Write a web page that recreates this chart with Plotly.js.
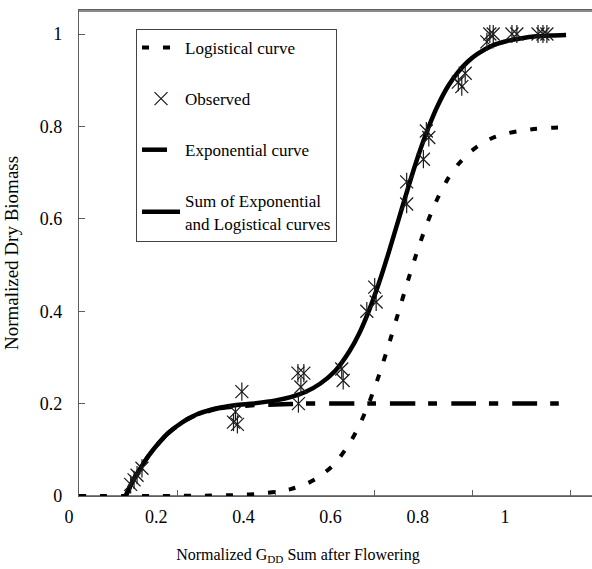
<!DOCTYPE html>
<html>
<head>
<meta charset="utf-8">
<script src="https://cdn.plot.ly/plotly-3.0.1.min.js"></script>
<style>
  html, body { margin: 0; padding: 0; background: #ffffff; }
  #chart { width: 592px; height: 569px; }
</style>
</head>
<body>
<div id="chart"></div>
<script>
// Normalized GDD sum after flowering (x) and normalized dry biomass (y)

// Logistical curve
const gddLogistic = [0, 0.05, 0.1, 0.15, 0.2, 0.25, 0.3, 0.33, 0.36, 0.4, 0.43, 0.46, 0.49, 0.52, 0.55, 0.57, 0.59, 0.61, 0.63, 0.65, 0.67, 0.69, 0.71, 0.73, 0.75, 0.77, 0.79, 0.81, 0.84, 0.87, 0.9, 0.93, 0.96, 0.99];
const biomassLogistic = [0, 0, 0, 0, 0.0002, 0.0006, 0.0015, 0.0025, 0.0043, 0.0088, 0.015, 0.025, 0.043, 0.070, 0.114, 0.153, 0.203, 0.262, 0.329, 0.400, 0.471, 0.538, 0.597, 0.647, 0.687, 0.717, 0.740, 0.757, 0.775, 0.785, 0.791, 0.795, 0.797, 0.798];

// Exponential curve
const gddExponential = [0.095, 0.1, 0.11, 0.12, 0.13, 0.14, 0.15, 0.16, 0.17, 0.18, 0.2, 0.22, 0.24, 0.26, 0.28, 0.3, 0.33, 0.36, 0.4, 0.43, 0.46, 0.5, 0.6, 0.7, 0.8, 0.9, 0.99];
const biomassExponential = [0, 0.012, 0.034, 0.052, 0.069, 0.085, 0.099, 0.112, 0.124, 0.135, 0.152, 0.166, 0.176, 0.183, 0.189, 0.192, 0.195, 0.197, 0.198, 0.199, 0.2, 0.2, 0.2, 0.2, 0.2, 0.2, 0.2];

// Sum of exponential and logistical curves
const gddSum = [0.095, 0.1, 0.11, 0.12, 0.13, 0.14, 0.15, 0.16, 0.17, 0.18, 0.2, 0.22, 0.24, 0.26, 0.28, 0.3, 0.33, 0.36, 0.4, 0.43, 0.46, 0.49, 0.52, 0.55, 0.57, 0.59, 0.61, 0.63, 0.65, 0.67, 0.69, 0.71, 0.73, 0.75, 0.77, 0.79, 0.81, 0.84, 0.87, 0.9, 0.93, 0.96, 0.99];
const biomassSum = [0, 0.012, 0.034, 0.052, 0.069, 0.085, 0.099, 0.112, 0.124, 0.135, 0.152, 0.166, 0.177, 0.184, 0.190, 0.194, 0.198, 0.201, 0.207, 0.214, 0.225, 0.243, 0.270, 0.314, 0.353, 0.403, 0.462, 0.529, 0.600, 0.671, 0.738, 0.797, 0.847, 0.887, 0.917, 0.940, 0.957, 0.975, 0.985, 0.991, 0.995, 0.997, 0.998];

// Observed samples
const gddObserved = [0.105, 0.112, 0.118, 0.128, 0.314, 0.318, 0.322, 0.331, 0.445, 0.451, 0.457, 0.446, 0.534, 0.537, 0.585, 0.601, 0.604, 0.666, 0.666, 0.700, 0.706, 0.711, 0.771, 0.778, 0.785, 0.829, 0.835, 0.842, 0.880, 0.890, 0.933, 0.943, 0.951];
const biomassObserved = [0.025, 0.035, 0.045, 0.060, 0.160, 0.182, 0.155, 0.226, 0.266, 0.236, 0.266, 0.200, 0.275, 0.250, 0.400, 0.452, 0.420, 0.680, 0.632, 0.729, 0.790, 0.776, 0.896, 0.886, 0.915, 0.983, 1.0, 1.0, 1.0, 1.0, 1.0, 1.0, 1.0];

// Axis tick values
const tickValues = [0, 0.2, 0.4, 0.6, 0.8, 1];

const serif = 'Liberation Serif, Times New Roman, serif';
const axisGray = '#5e5e5e';
const starColor = '#1a1a1a';

const traces = [
  {
    name: 'Logistical curve', x: gddLogistic, y: biomassLogistic,
    type: 'scatter', mode: 'lines', legendgroup: 'a', legendrank: 1,
    line: { color: '#000000', width: 4, dash: '7px,14px', shape: 'spline', smoothing: 0.6 }
  },
  {
    name: 'Exponential curve', x: gddExponential, y: biomassExponential,
    type: 'scatter', mode: 'lines', legendgroup: 'c', legendrank: 3,
    line: { color: '#000000', width: 4.5, dash: '25px,13px,9px,14px', shape: 'spline', smoothing: 0.6 }
  },
  {
    name: 'Sum of Exponential<br>and Logistical curves', x: gddSum, y: biomassSum,
    type: 'scatter', mode: 'lines', legendgroup: 'd', legendrank: 4,
    line: { color: '#000000', width: 4.5, shape: 'spline', smoothing: 0.6 }
  },
  {
    name: 'Observed', x: gddObserved, y: biomassObserved,
    type: 'scatter', mode: 'markers', legendgroup: 'b', legendrank: 2,
    marker: { symbol: 'x-thin-open', size: 13, color: starColor, line: { color: starColor, width: 1.2 } }
  },
  {
    name: 'Observed', x: gddObserved, y: biomassObserved,
    type: 'scatter', mode: 'markers', legendgroup: 'b', showlegend: false,
    marker: { symbol: 'line-ns-open', size: 13, color: starColor, line: { color: starColor, width: 1.2 } }
  },
  {
    // carries the labelled bottom axis (no marks)
    x: [], y: [], xaxis: 'x2', yaxis: 'y',
    type: 'scatter', mode: 'markers', showlegend: false, hoverinfo: 'skip'
  }
];

const layout = {
  width: 592,
  height: 569,
  margin: { l: 60, r: 0, t: 10, b: 73 },
  paper_bgcolor: '#ffffff',
  plot_bgcolor: 'rgba(0,0,0,0)',
  font: { family: serif, color: '#000000', size: 17 },
  showlegend: true,
  legend: {
    x: 0.1429, y: 0.961, xanchor: 'left', yanchor: 'top',
    bgcolor: '#ffffff', bordercolor: '#444444', borderwidth: 1,
    font: { family: serif, size: 17, color: '#000000' },
    traceorder: 'grouped', tracegroupgap: 26, itemwidth: 38
  },
  xaxis: {
    domain: [0.0357, 1],
    range: [0, 1.0427],
    showgrid: false, zeroline: false,
    showline: true, linecolor: axisGray, linewidth: 1.2, mirror: true,
    ticks: 'inside', ticklen: 6, tickcolor: axisGray, tickwidth: 1,
    tickvals: tickValues, showticklabels: false
  },
  xaxis2: {
    domain: [0, 0.8947],
    range: [-0.0206, 1.0711],
    anchor: 'y', side: 'bottom',
    showgrid: false, zeroline: false, showline: false, ticks: '',
    tickvals: tickValues,
    tickfont: { family: serif, size: 18, color: '#000000' },
    ticklabelstandoff: 8,
    title: { text: 'Normalized G<sub>DD</sub> Sum after Flowering', font: { family: serif, size: 16, color: '#000000' }, standoff: 22 }
  },
  yaxis: {
    range: [0, 1.052],
    showgrid: false, zeroline: false,
    showline: true, linecolor: axisGray, linewidth: 1.2,
    ticks: 'inside', ticklen: 6, tickcolor: axisGray, tickwidth: 1,
    tickvals: tickValues,
    tickfont: { family: serif, size: 18, color: '#000000' },
    ticklabelstandoff: 12,
    title: { text: 'Normalized Dry Biomass', font: { family: serif, size: 19, color: '#000000' }, standoff: 16 }
  },
  shapes: [
    // plot-area frame: top and bottom edges
    { type: 'line', xref: 'paper', yref: 'paper', x0: 0.0357, x1: 1, y0: 0.998, y1: 0.998,
      line: { color: '#8a8a8a', width: 2 }, layer: 'above' },
    { type: 'line', xref: 'paper', yref: 'paper', x0: 0.0357, x1: 1, y0: 0, y1: 0,
      line: { color: '#555555', width: 1.5 }, layer: 'below' }
  ]
};

Plotly.newPlot('chart', traces, layout, { displayModeBar: false, staticPlot: true });
</script>
</body>
</html>
